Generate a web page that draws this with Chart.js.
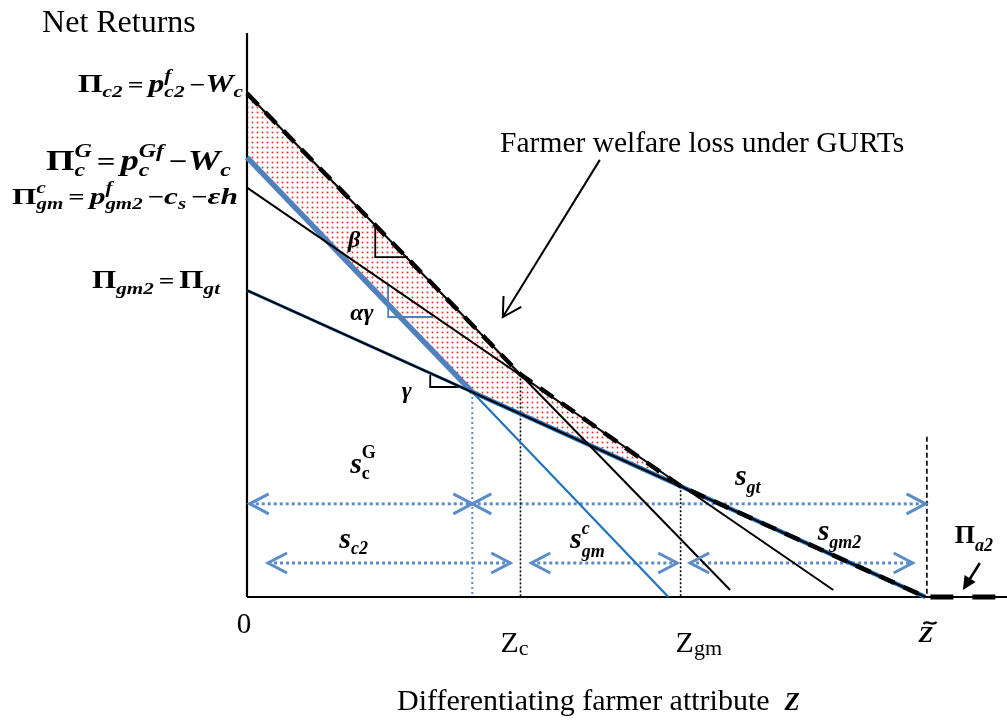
<!DOCTYPE html>
<html>
<head>
<meta charset="utf-8">
<script src="https://cdn.jsdelivr.net/npm/chart.js@4.4.0/dist/chart.umd.min.js"></script>
<style>
  body { margin: 0; background: #fff; }
</style>
</head>
<body>
<canvas id="myChart" width="1007" height="721"></canvas>
<script>
// x = differentiating farmer attribute Z (Z~ = 10), y = net returns (Pi_c2 = 10)
var zTicks = [0, 4.03, 6.39, 10];
var zTickLabels = [['0', ''], ['Z', 'c'], ['Z', 'gm'], ['Z', '']];

var lineC2 = [[0, 10], [7.12, 0.14]];
var lineCG = [[0, 8.73], [3.32, 4.07]];
var lineCGrest = [[3.32, 4.07], [6.21, 0]];
var lineGMc = [[0, 8.13], [8.64, 0.14]];
var lineGM2 = [[0, 6.09], [10, 0]];
var lineGM2right = [[3.32, 4.07], [10, 0]];
var lineGM2left = [[0, 6.09], [3.32, 4.07]];
var envelope = [[0, 10], [4.03, 4.42], [6.39, 2.2], [10, 0]];
var lineA2 = [[10.07, 0], [11.03, 0]];
var lossArea = [[0, 10], [4.03, 4.42], [6.39, 2.2], [3.32, 4.07], [0, 8.73], [0, 10]];

var guideCross = [[3.32, 4.07], [3.32, 0]];
var guideZc = [[4.03, 4.42], [4.03, 0]];
var guideZgm = [[6.39, 2.2], [6.39, 0]];
var guideZt = [[10.02, 3.18], [10.02, 0]];

var spanTop = [[0.04, 1.85], [10.0, 1.85]];
var spanC2 = [[0.31, 0.675], [3.88, 0.675]];
var spanGMc = [[4.19, 0.675], [6.34, 0.675]];
var spanGM2 = [[6.53, 0.675], [9.81, 0.675]];
var headsLeft = [[0.04, 1.85], [3.32, 1.85], [0.31, 0.675], [4.19, 0.675], [6.53, 0.675]];
var headsRight = [[3.32, 1.85], [10.0, 1.85], [3.88, 0.675], [6.34, 0.675], [9.81, 0.675]];

var markBeta = [[1.89, 7.38], [1.89, 6.75], [2.37, 6.75]];
var markAG = [[2.08, 6.2], [2.08, 5.56], [2.73, 5.56]];
var markG = [[2.70, 4.41], [2.70, 4.17], [3.29, 4.17]];

var axisY = [[0, 0], [0, 11.2]];
var axisX = [[0, 0], [11.2, 0]];

var T = '"Liberation Serif", "Times New Roman", serif';
function bi(s) { return 'italic bold ' + s + 'px ' + T; }
function bd(s) { return 'bold ' + s + 'px ' + T; }
function rg(s) { return s + 'px ' + T; }

function pts(a) { return a.map(function (p) { return { x: p[0], y: p[1] }; }); }

function ds(data, color, width, dash, extra) {
  var d = {
    data: pts(data), borderColor: color, borderWidth: width,
    borderDash: dash || [], pointRadius: 0, fill: false, clip: false,
    borderCapStyle: 'butt'
  };
  for (var k in extra || {}) d[k] = extra[k];
  return d;
}

// red stipple for the welfare loss area
var tile = document.createElement('canvas');
tile.width = 5; tile.height = 5;
var tctx = tile.getContext('2d');
tctx.fillStyle = '#ff2a2a';
tctx.beginPath(); tctx.arc(2.5, 2.5, 0.95, 0, Math.PI * 2); tctx.fill();
var dots = tctx.createPattern(tile, 'repeat');

// draws a string made of pieces with sub / superscripts.
// parts with g:1 start a new group (5px gap before it); if a width is
// given the glyphs are stretched sideways so the whole thing fills it
function rich(ctx, x, y, parts, align, width) {
  var GAP = 5;
  var widths = parts.map(function (p) {
    ctx.font = p.f;
    if (p.sup !== undefined) return Math.max(ctx.measureText(p.sup).width, ctx.measureText(p.sub).width);
    return ctx.measureText(p.t).width;
  });
  var natural = widths.reduce(function (a, b) { return a + b; }, 0);
  var gaps = parts.filter(function (p) { return p.g; }).length;
  var sx = 1;
  if (width) sx = (width - gaps * GAP) / natural;
  var total = natural * sx + gaps * GAP;
  var cx = align === 'right' ? x - total : align === 'center' ? x - total / 2 : x;
  ctx.textAlign = 'left';
  ctx.textBaseline = 'alphabetic';
  parts.forEach(function (p, i) {
    if (p.g) cx += GAP;
    ctx.font = p.f;
    ctx.save();
    ctx.translate(cx, y);
    ctx.scale(sx, 1);
    if (p.sup !== undefined) {
      ctx.fillText(p.sup, 0, p.up);
      ctx.fillText(p.sub, 0, p.dn);
    } else {
      ctx.fillText(p.t, 0, p.dy || 0);
    }
    ctx.restore();
    cx += widths[i] * sx;
  });
}

var annotations = {
  id: 'annotations',
  afterDatasetsDraw: function (chart) {
    var ctx = chart.ctx;
    var xs = chart.scales.x, ys = chart.scales.y;
    function P(a, b) { return [xs.getPixelForValue(a), ys.getPixelForValue(b)]; }
    ctx.save();
    ctx.fillStyle = '#000';

    // span arrow heads
    ctx.strokeStyle = '#5b8bc9';
    ctx.lineWidth = 3;
    function chevron(tip, dir) {
      var p = P(tip[0], tip[1]);
      ctx.beginPath();
      ctx.moveTo(p[0] + dir * 19, p[1] - 10);
      ctx.lineTo(p[0], p[1]);
      ctx.lineTo(p[0] + dir * 19, p[1] + 10);
      ctx.stroke();
    }
    headsLeft.forEach(function (h) { chevron(h, 1); });
    headsRight.forEach(function (h) { chevron(h, -1); });

    // "Farmer welfare loss" arrow
    ctx.strokeStyle = '#000';
    ctx.lineWidth = 2;
    var a0 = P(5.20, 8.68), a1 = P(3.77, 5.56);
    ctx.beginPath(); ctx.moveTo(a0[0], a0[1]); ctx.lineTo(a1[0], a1[1]); ctx.stroke();
    var ang = Math.atan2(a0[1] - a1[1], a0[0] - a1[0]);
    ctx.beginPath();
    ctx.moveTo(a1[0] + 21 * Math.cos(ang - 0.52), a1[1] + 21 * Math.sin(ang - 0.52));
    ctx.lineTo(a1[0], a1[1]);
    ctx.lineTo(a1[0] + 21 * Math.cos(ang + 0.52), a1[1] + 21 * Math.sin(ang + 0.52));
    ctx.stroke();

    // Pi_a2 arrow
    var b0 = P(10.80, 0.675), b1 = P(10.55, 0.14);
    var ang2 = Math.atan2(b0[1] - b1[1], b0[0] - b1[0]);
    ctx.lineWidth = 2.5;
    ctx.beginPath();
    ctx.moveTo(b0[0], b0[1]);
    ctx.lineTo(b1[0] + 10 * Math.cos(ang2), b1[1] + 10 * Math.sin(ang2));
    ctx.stroke();
    ctx.beginPath();
    ctx.moveTo(b1[0], b1[1]);
    ctx.lineTo(b1[0] + 15 * Math.cos(ang2 - 0.45), b1[1] + 15 * Math.sin(ang2 - 0.45));
    ctx.lineTo(b1[0] + 15 * Math.cos(ang2 + 0.45), b1[1] + 15 * Math.sin(ang2 + 0.45));
    ctx.closePath(); ctx.fill();

    // left-hand labels
    var left = xs.getPixelForValue(0);
    rich(ctx, left - 4, ys.getPixelForValue(10) - 1, [
      { t: 'Π', f: bd(25) }, { t: 'c2', f: bi(17), dy: 5 }, { t: '=', f: bd(22), g: 1 },
      { t: 'p', f: bi(25), g: 1 }, { sup: 'f', sub: 'c2', f: bi(17), up: -11, dn: 5 },
      { t: '−', f: bd(22), g: 1 }, { t: 'W', f: bi(25) }, { t: 'c', f: bi(17), dy: 5 }
    ], 'right', 165);
    rich(ctx, left - 16, ys.getPixelForValue(8.73) + 13, [
      { t: 'Π', f: bd(29) }, { sup: 'G', sub: 'c', f: bi(19), up: -13, dn: 6 }, { t: '=', f: bd(26), g: 1 },
      { t: 'p', f: bi(29), g: 1 }, { sup: 'Gf', sub: 'c', f: bi(19), up: -13, dn: 6 },
      { t: '−', f: bd(26), g: 1 }, { t: 'W', f: bi(29) }, { t: 'c', f: bi(19), dy: 6 }
    ], 'right', 185);
    rich(ctx, left - 9, ys.getPixelForValue(8.13) + 16, [
      { t: 'Π', f: bd(24) }, { sup: 'c', sub: 'gm', f: bi(16), up: -11, dn: 5 }, { t: '=', f: bd(22), g: 1 },
      { t: 'p', f: bi(24), g: 1 }, { sup: 'f', sub: 'gm2', f: bi(16), up: -11, dn: 5 },
      { t: '−', f: bd(22), g: 1 }, { t: 'c', f: bi(24) }, { t: 's', f: bi(16), dy: 5 },
      { t: '−', f: bd(22), g: 1 }, { t: 'ε', f: bi(24) }, { t: 'h', f: bi(24) }
    ], 'right', 226);
    rich(ctx, left - 27, ys.getPixelForValue(6.09) - 2, [
      { t: 'Π', f: bd(25) }, { t: 'gm2', f: bi(17), dy: 6 }, { t: '=', f: bd(22), g: 1 },
      { t: 'Π', f: bd(25), g: 1 }, { t: 'gt', f: bi(17), dy: 6 }
    ], 'right', 128);

    // labels inside the plot
    function at(a, b, parts, align) { var p = P(a, b); rich(ctx, p[0], p[1], parts, align); }
    at(1.49, 6.95, [{ t: 'β', f: bi(24) }]);
    at(1.52, 5.50, [{ t: 'αγ', f: bi(24) }]);
    at(2.28, 3.95, [{ t: 'γ', f: bi(24) }]);
    at(1.52, 2.46, [{ t: 's', f: bi(30) }, { sup: 'G', sub: 'c', f: bd(18), up: -15, dn: 6 }]);
    at(1.36, 0.97, [{ t: 's', f: bi(30) }, { t: 'c2', f: bi(18), dy: 6 }]);
    at(4.76, 0.97, [{ t: 's', f: bi(30) }, { sup: 'c', sub: 'gm', f: bi(18), up: -14, dn: 9 }]);
    at(7.19, 2.22, [{ t: 's', f: bi(30) }, { t: 'gt', f: bi(18), dy: 8 }]);
    at(8.41, 1.13, [{ t: 's', f: bi(30) }, { t: 'gm2', f: bi(18), dy: 8 }]);
    at(10.43, 1.07, [{ t: 'Π', f: bd(26) }, { t: 'a2', f: bi(18), dy: 8 }]);
    at(3.73, 8.84, [{ t: 'Farmer welfare loss under GURTs', f: rg(29.5) }]);

    // axis texts
    at(-3.02, 11.22, [{ t: 'Net Returns', f: rg(32) }]);
    var tickShift = [-5, -20, -5, -7];
    zTicks.forEach(function (z, i) {
      var lab = zTickLabels[i];
      var px = xs.getPixelForValue(z) + tickShift[i];
      if (i === 0) {
        rich(ctx, px + 2, ys.getPixelForValue(0) + 36, [{ t: lab[0], f: rg(29) }], 'center');
      } else if (i === 3) {
        var by = ys.getPixelForValue(0) + 45;
        rich(ctx, px, by, [{ t: lab[0], f: bi(24) }]);
        ctx.lineWidth = 2.2;
        ctx.beginPath();
        ctx.moveTo(px + 5, by - 18);
        ctx.bezierCurveTo(px + 9, by - 23, px + 13, by - 15, px + 18, by - 20);
        ctx.stroke();
      } else {
        rich(ctx, px, ys.getPixelForValue(0) + 55, [{ t: lab[0], f: rg(30) }, { t: lab[1], f: rg(22), dy: 3 }]);
      }
    });
    at(2.21, -2.24, [{ t: 'Differentiating farmer attribute  ', f: rg(30) }, { t: 'Z', f: bi(25) }]);
    ctx.restore();
  }
};

var ctx = document.getElementById('myChart').getContext('2d');
var blueThick = '#4f81bd', blueLine = '#1f72c0', blueDot = '#5b8bc9';

var chart = new Chart(ctx, {
  type: 'line',
  data: {
    datasets: [
      ds(envelope, '#000', 4.5, [16, 10]),
      ds(lineA2, '#000', 5, [23, 19]),
      ds(lineC2, '#000', 2),
      ds(lineGMc, '#000', 2),
      ds(lineGM2, '#000', 2),
      ds(lineGM2right, blueLine, 4.5),
      ds(lineGM2left, blueLine, 3),
      ds(lineCG, blueThick, 5.5),
      ds(lineCGrest, blueLine, 2.2),
      ds(markBeta, '#000', 1.8),
      ds(markAG, blueThick, 1.8),
      ds(markG, '#000', 1.8),
      ds(guideCross, blueDot, 2, [2, 3]),
      ds(guideZc, '#000', 1.6, [2, 2]),
      ds(guideZgm, '#000', 1.6, [2, 2]),
      ds(guideZt, '#000', 1.6, [5, 3]),
      ds(spanTop, blueDot, 3, [3, 3]),
      ds(spanC2, blueDot, 3, [3, 3]),
      ds(spanGMc, blueDot, 3, [3, 3]),
      ds(spanGM2, blueDot, 3, [3, 3]),
      ds(axisY, '#000', 2.2),
      ds(axisX, '#000', 2.2),
      ds(lossArea, 'rgba(0,0,0,0)', 0, null, { fill: 'shape', backgroundColor: dots })
    ]
  },
  options: {
    responsive: false,
    animation: false,
    devicePixelRatio: 1,
    layout: { padding: { left: 247, right: 0, top: 33, bottom: 124 } },
    scales: {
      x: { type: 'linear', min: 0, max: 11.2, display: false },
      y: { type: 'linear', min: 0, max: 11.2, display: false }
    },
    elements: { line: { tension: 0 } },
    plugins: { legend: { display: false }, tooltip: { enabled: false } }
  },
  plugins: [annotations]
});
</script>
</body>
</html>
